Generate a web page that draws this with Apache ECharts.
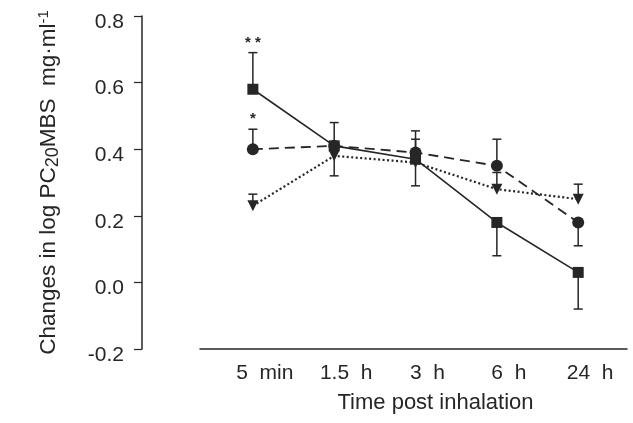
<!DOCTYPE html>
<html>
<head>
<meta charset="utf-8">
<script src="https://cdn.jsdelivr.net/npm/echarts@6/dist/echarts.min.js"></script>
<style>
  html, body { margin: 0; padding: 0; background: #fff; }
  #chart { width: 633px; height: 423px; }
</style>
</head>
<body>
<div id="chart"></div>
<script>
// time points (x positions are category indexes 0..4)
const timeLabels = ["5  min", "1.5  h", "3  h", "6  h", "24  h"];
const timeIdx = [0, 1, 2, 3, 4];

// mean changes in log PC20MBS
const squareVals = [0.58, 0.41, 0.37, 0.18, 0.03];
const circleVals = [0.40, 0.41, 0.39, 0.35, 0.18];
const triangleVals = [0.23, 0.38, 0.36, 0.28, 0.25];

// one-sided error bar ends (null = none drawn)
const squareErr = [0.69, 0.48, 0.455, 0.08, -0.08];
const circleErr = [0.46, null, 0.43, 0.43, 0.11];
const triangleErr = [0.265, 0.32, 0.29, 0.33, 0.295];

// significance marks
const starX = [0, 0];
const starY = [0.718, 0.49];
const starText = ["* *", "*"];

const INK = "#262626";
const FONT = "Liberation Sans";

const chart = echarts.init(document.getElementById("chart"));

function pairs(vals) {
  return timeIdx.map((x, i) => [x, vals[i]]);
}

function errSeries(vals, errs) {
  const data = [];
  timeIdx.forEach((x, i) => {
    if (errs[i] !== null) data.push([x, vals[i], errs[i]]);
  });
  return {
    type: "custom",
    z: 1,
    silent: true,
    data: data,
    renderItem(params, api) {
      const p0 = api.coord([api.value(0), api.value(1)]);
      const p1 = api.coord([api.value(0), api.value(2)]);
      const style = { stroke: INK, lineWidth: 1.5 };
      return {
        type: "group",
        children: [
          { type: "line", shape: { x1: p0[0], y1: p0[1], x2: p1[0], y2: p1[1] }, style },
          { type: "line", shape: { x1: p1[0] - 4.5, y1: p1[1], x2: p1[0] + 4.5, y2: p1[1] }, style },
        ],
      };
    },
  };
}

const option = {
  animation: false,
  backgroundColor: "#fff",
  grid: { left: 200, right: 6, top: 16, bottom: 74 },
  xAxis: {
    type: "value",
    min: -0.65,
    max: 4.6,
    splitLine: { show: false },
    axisTick: { show: false },
    axisLine: { onZero: false, lineStyle: { color: INK, width: 1.5 } },
    axisLabel: {
      customValues: timeIdx,
      formatter: (v) => timeLabels[v],
      color: INK,
      fontFamily: FONT,
      fontSize: 21,
      margin: 14,
      padding: [0, 0, 0, 24],
    },
    name: "Time post inhalation",
    nameLocation: "middle",
    nameGap: 43,
    nameTextStyle: {
      color: INK,
      fontFamily: FONT,
      fontSize: 22,
      padding: [0, 0, 0, 44],
    },
  },
  yAxis: {
    type: "value",
    min: -0.2,
    max: 0.8,
    interval: 0.2,
    offset: 58,
    splitLine: { show: false },
    axisLine: { show: true, onZero: false, lineStyle: { color: INK, width: 1.5 } },
    axisTick: { show: true, length: 8, lineStyle: { color: INK, width: 1.2 } },
    axisLabel: {
      formatter: (v) => v.toFixed(1),
      color: INK,
      fontFamily: FONT,
      fontSize: 21,
      margin: 18,
      verticalAlign: "top",
      lineHeight: 12,
    },
    name: "{t|Changes in log PC}{sub|20}{t|MBS  mg\u00b7ml}{sup|-1}",
    nameLocation: "middle",
    nameGap: 80,
    nameTextStyle: {
      color: INK,
      fontFamily: FONT,
      fontSize: 22,
      rich: {
        t: { fontFamily: FONT, fontSize: 22.5, color: INK, lineHeight: 26 },
        sub: { fontFamily: FONT, fontSize: 18, color: INK, lineHeight: 18, verticalAlign: "bottom" },
        sup: { fontFamily: FONT, fontSize: 15, color: INK, lineHeight: 15, verticalAlign: "top" },
      },
    },
  },
  series: [
    errSeries(squareVals, squareErr),
    errSeries(circleVals, circleErr),
    errSeries(triangleVals, triangleErr),
    {
      type: "line",
      z: 3,
      data: pairs(squareVals),
      symbol: "rect",
      symbolSize: 11,
      itemStyle: { color: INK },
      lineStyle: { color: INK, width: 1.6, type: "solid" },
    },
    {
      type: "line",
      z: 3,
      data: pairs(circleVals),
      symbol: "circle",
      symbolSize: 12,
      itemStyle: { color: INK },
      lineStyle: { color: INK, width: 1.8, type: [10, 6] },
    },
    {
      type: "line",
      z: 3,
      data: pairs(triangleVals),
      symbol: "triangle",
      symbolRotate: 180,
      symbolSize: 11,
      itemStyle: { color: INK },
      lineStyle: { color: INK, width: 2.2, type: [2, 2.5] },
    },
    {
      type: "custom",
      z: 4,
      silent: true,
      data: starX.map((x, i) => [x, starY[i]]),
      renderItem(params, api) {
        const p = api.coord([api.value(0), api.value(1)]);
        return {
          type: "text",
          x: p[0],
          y: p[1],
          style: {
            text: starText[params.dataIndex],
            fill: INK,
            font: "bold 15px " + FONT,
            align: "center",
            verticalAlign: "middle",
          },
        };
      },
    },
  ],
};

chart.setOption(option);
</script>
</body>
</html>
